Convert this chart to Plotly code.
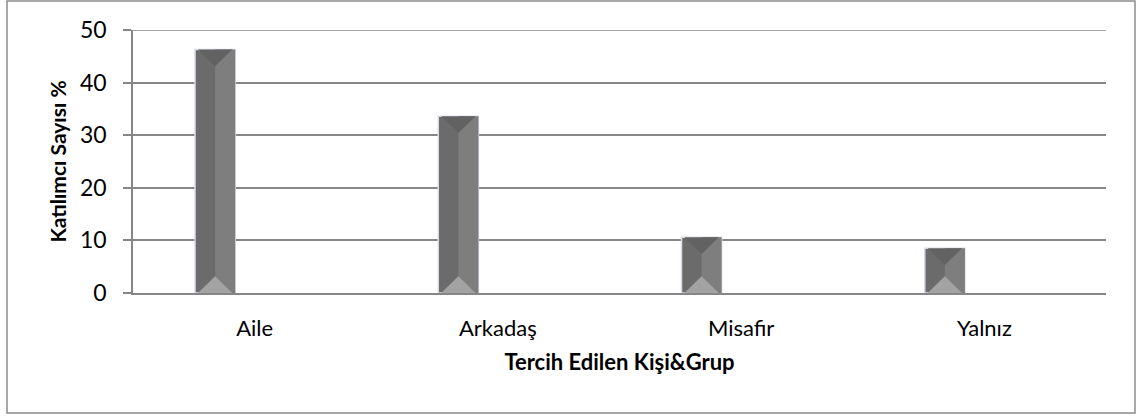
import plotly.graph_objects as go

categories = ["Aile", "Arkadaş", "Misafir", "Yalnız"]
values = [46.3, 33.6, 10.6, 8.5]
y_ticks = [0, 10, 20, 30, 40, 50]

W, H = 1144, 416
ml, mr, mt, mb = 133, 38, 30, 123
pw = W - ml - mr
ph = H - mt - mb

bar_w = 0.165
bar_off = -0.245

fig = go.Figure()
# base bar (darker left face) with light outline
fig.add_trace(go.Bar(
    x=categories, y=values, width=bar_w, offset=bar_off,
    marker=dict(color="#6b6b6b", line=dict(color="#d6dbe6", width=1.5)),
    hoverinfo="skip", showlegend=False,
))
# right face (lighter)
fig.add_trace(go.Bar(
    x=categories, y=values, width=bar_w / 2, offset=bar_off + bar_w / 2,
    marker=dict(color="#7e7e7e", line=dict(width=0)),
    hoverinfo="skip", showlegend=False,
))

# bevel triangles computed from data
shapes = []
half = bar_w / 2
for i, v in enumerate(values):
    x0 = i + bar_off
    x1 = x0 + bar_w
    xc = x0 + half
    tri_h = min(v, 3.2)
    shapes.append(dict(type="path", xref="x", yref="y",
                       path=f"M {x0+0.012},0 L {xc},{tri_h} L {x1-0.012},0 Z",
                       fillcolor="#a3a3a3", line=dict(width=0), layer="above"))
    shapes.append(dict(type="path", xref="x", yref="y",
                       path=f"M {x0+0.012},{v} L {xc},{v-tri_h} L {x1-0.012},{v} Z",
                       fillcolor="#626262", line=dict(width=0), layer="above"))

# top gridline at the highest tick
shapes.append(dict(type="line", xref="paper", yref="y",
                   x0=0, x1=1, y0=max(y_ticks), y1=max(y_ticks),
                   line=dict(color="#868686", width=1.5), layer="below"))

# outer chart border
shapes.append(dict(type="rect", xref="paper", yref="paper",
                   x0=(7 - ml) / pw, x1=(1135 - ml) / pw,
                   y0=-(413 - mt - ph) / ph, y1=(ph + mt - 1) / ph,
                   line=dict(color="#8c8c8c", width=1.5), fillcolor="rgba(0,0,0,0)",
                   layer="below"))

fig.update_layout(
    width=W, height=H,
    margin=dict(l=ml, r=mr, t=mt, b=mb, autoexpand=False),
    paper_bgcolor="white", plot_bgcolor="white",
    font=dict(family="Lato, 'Open Sans', sans-serif", color="black", size=22),
    barmode="overlay",
    shapes=shapes,
    xaxis=dict(
        type="category", range=[-0.5, 3.5],
        showgrid=False, showline=True, linecolor="#868686", linewidth=1.5,
        ticks="", ticklabelstandoff=15,
        tickfont=dict(size=22),
        title=dict(text="<b>Tercih Edilen Kişi&Grup</b>", font=dict(size=22), standoff=14),
    ),
    yaxis=dict(
        range=[0, 50], tickvals=y_ticks,
        showgrid=True, gridcolor="#868686", gridwidth=1.5,
        showline=True, linecolor="#868686", linewidth=1.5,
        ticks="outside", ticklen=8, tickcolor="#868686", tickwidth=1.5,
        ticklabelstandoff=12,
        tickfont=dict(size=23),
        zeroline=False,
        title=dict(text="<b>Katılımcı Sayısı %</b>", font=dict(size=21), standoff=8),
    ),
)

fig.write_html("out.html", config={"displayModeBar": False})
with open("out.html", encoding="utf-8") as f:
    html = f.read()
html = html.replace("<body>", '<body style="margin:0;overflow:hidden">', 1)
with open("out.html", "w", encoding="utf-8") as f:
    f.write(html)
